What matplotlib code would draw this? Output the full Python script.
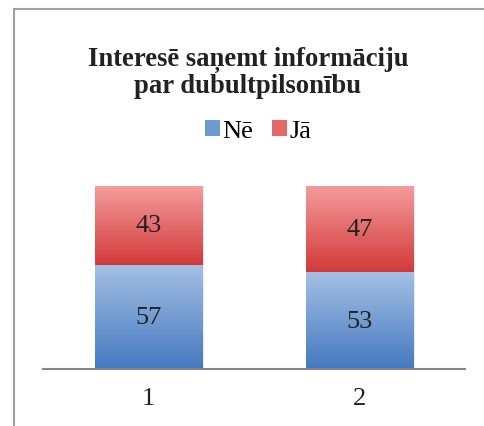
import numpy as np
import matplotlib
matplotlib.use("Agg")
import matplotlib.pyplot as plt
from matplotlib.patches import Rectangle
from matplotlib.lines import Line2D
from matplotlib.colors import LinearSegmentedColormap

categories = ["1", "2"]
ne_values = [57, 53]
ja_values = [43, 47]
series_names = ["Nē", "Jā"]
title = "Interesē saņemt informāciju\npar dubultpilsonību"

W, H = 485, 427
fig = plt.figure(figsize=(W / 100, H / 100), dpi=100)
ax = fig.add_axes([43 / W, 1 - 370 / H, (465 - 43) / W, (370 - 187) / H])

x = np.arange(len(categories))
width = 0.51
blue_cmap = LinearSegmentedColormap.from_list("b", ["#4479C0", "#A5C0E4"])
red_cmap = LinearSegmentedColormap.from_list("r", ["#D23A3A", "#F59C9C"])

b1 = ax.bar(x, ne_values, width, color="none", edgecolor="none")
b2 = ax.bar(x, ja_values, width, bottom=ne_values, color="none", edgecolor="none")

grad = np.linspace(0, 1, 256).reshape(-1, 1)
for bars, cmap in ((b1, blue_cmap), (b2, red_cmap)):
    for r in bars:
        x0, y0 = r.get_x(), r.get_y()
        w, h = r.get_width(), r.get_height()
        sh = Rectangle((x0 + 0.006, y0 - 0.6), w, h, facecolor="#000000", alpha=0.08,
                       edgecolor="none", zorder=1)
        ax.add_patch(sh)
        im = ax.imshow(grad, extent=[x0, x0 + w, y0, y0 + h], origin="lower",
                       cmap=cmap, aspect="auto", zorder=2)
        im.set_clip_path(r)

num_font = "Liberation Serif"
for i in range(len(categories)):
    ax.text(x[i], ne_values[i] / 2, str(ne_values[i]), ha="center", va="center",
            fontsize=19, family=num_font, color="#222222", zorder=3)
    ax.text(x[i], ne_values[i] + ja_values[i] / 2, str(ja_values[i]), ha="center",
            va="center", fontsize=19, family=num_font, color="#222222", zorder=3)

ax.set_xlim(-0.5, len(categories) - 0.5)
ax.set_ylim(0, 100)
ax.set_xticks(x)
ax.set_xticklabels(categories, fontsize=19, family=num_font, color="#222222")
ax.tick_params(axis="x", length=0, pad=13)
ax.set_yticks([])
for s in ("left", "right", "top"):
    ax.spines[s].set_visible(False)
ax.spines["bottom"].set_color("#868686")
ax.spines["bottom"].set_linewidth(1.5)
ax.spines["bottom"].set_zorder(4)
ax.patch.set_alpha(0)

fig.text(248 / W, 1 - 73 / H, title, ha="center", va="center", fontsize=19.2,
         family="Liberation Serif", fontweight="bold", color="#222222", linespacing=1.05)

handles = [Rectangle((0, 0), 1, 1, facecolor="#6E9AD2", edgecolor="none"),
           Rectangle((0, 0), 1, 1, facecolor="#E46A6A", edgecolor="none")]
fig.legend(handles, series_names, loc="center", bbox_to_anchor=(258 / W, 1 - 132 / H),
           ncol=2, frameon=False, prop={"family": "Liberation Serif", "size": 19},
           handlelength=0.57, handleheight=0.57, handletextpad=0.1, columnspacing=0.7,
           borderpad=0, borderaxespad=0)

fig.add_artist(Line2D([13.5 / W, 13.5 / W], [0, 1 - 10 / H], color="#A0A0A0", lw=1.5,
                      transform=fig.transFigure))
fig.add_artist(Line2D([13.5 / W, 1], [1 - 10 / H, 1 - 10 / H], color="#A0A0A0", lw=1.5,
                      transform=fig.transFigure))

fig.savefig("out.png", dpi=100)
